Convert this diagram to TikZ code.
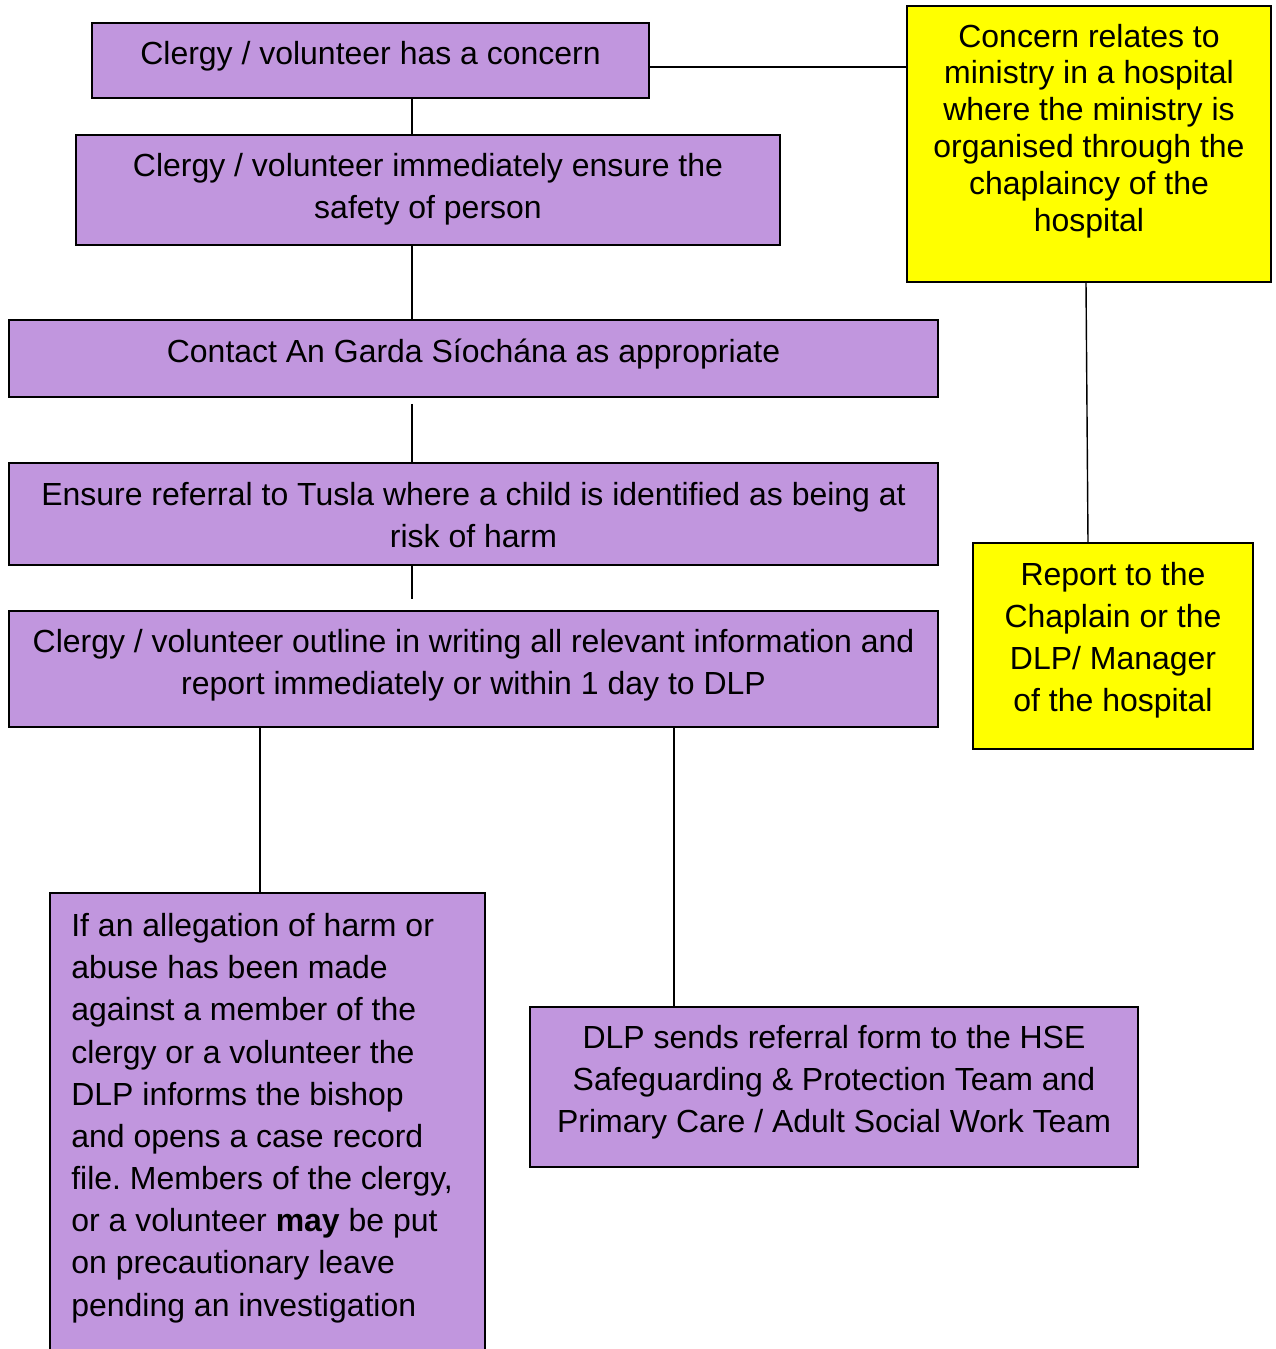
\documentclass[tikz,border=0pt]{standalone}
\usepackage{fontspec}
\setmainfont{Liberation Sans}
\usepackage{xcolor}
\usetikzlibrary{calc}
\definecolor{lilac}{RGB}{193,150,222}
\definecolor{brightyellow}{RGB}{255,255,0}
\frenchspacing
\tikzset{
  purplebox/.style={rectangle, draw=black, line width=1.1pt, fill=lilac, inner sep=0pt},
  yellowbox/.style={rectangle, draw=black, line width=1.1pt, fill=brightyellow, inner sep=0pt},
  boxtext/.style={align=center, inner sep=0pt, font=\fontsize{18.2}{24}\selectfont},
  connector/.style={line width=0.8pt, draw=black}
}

\begin{document}
\begin{tikzpicture}[x=0.02cm, y=-0.02cm]
\useasboundingbox (0,0) rectangle (1275,1349);
% Main column
\node[purplebox, minimum width=11.14cm, minimum height=1.5cm] (concern) at (370.5,60.5) {};
\node[boxtext] (concerntext) at ($(concern)+(0,-4)$) {Clergy / volunteer has a concern};
\node[purplebox, minimum width=14.08cm, minimum height=2.2cm] (safety) at (428,190) {};
\node[boxtext] (safetytext) at ($(safety)+(0,-1)$) {Clergy / volunteer immediately ensure the\\safety of person};
\node[purplebox, minimum width=18.58cm, minimum height=1.54cm] (garda) at (473.5,358.5) {};
\node[boxtext] (gardatext) at ($(garda)+(0,-4)$) {Contact An Garda Síochána as appropriate};
\node[purplebox, minimum width=18.58cm, minimum height=2.04cm] (tusla) at (473.5,514) {};
\node[boxtext] (tuslatext) at ($(tusla)+(0,1)$) {Ensure referral to Tusla where a child is identified as being at\\risk of harm};
\node[purplebox, minimum width=18.58cm, minimum height=2.32cm] (outline) at (473.5,669) {};
\node[boxtext] (outlinetext) at ($(outline)+(0,-4)$) {Clergy / volunteer outline in writing all relevant information and\\report immediately or within 1 day to DLP};

% Lower branches
\node[purplebox, minimum width=8.7cm, minimum height=9.54cm] (allegation) at (267.5,1131.5) {};
\node[boxtext, align=left, anchor=north west] (allegationtext) at (71,913) {If an allegation of harm or\\abuse has been made\\against a member of the\\clergy or a volunteer the\\DLP informs the bishop\\and opens a case record\\file. Members of the clergy,\\or a volunteer \textbf{may} be put\\on precautionary leave\\pending an investigation};
\node[purplebox, minimum width=12.16cm, minimum height=3.2cm] (hse) at (834,1087) {};
\node[boxtext] (hsetext) at ($(hse)+(0,-5)$) {DLP sends referral form to the HSE\\Safeguarding \& Protection Team and\\Primary Care / Adult Social Work Team};

% Hospital column
\node[yellowbox, minimum width=7.28cm, minimum height=5.52cm] (hospital) at (1089,144) {};
\node[boxtext, font=\fontsize{18.2}{21}\selectfont] (hospitaltext) at ($(hospital)+(0,-13)$) {Concern relates to\\ministry in a hospital\\where the ministry is\\organised through the\\chaplaincy of the\\hospital};
\node[yellowbox, minimum width=5.6cm, minimum height=4.12cm] (chaplain) at (1113,646) {};
\node[boxtext] (chaplaintext) at ($(chaplain)+(0,-6)$) {Report to the\\Chaplain or the\\DLP/ Manager\\of the hospital};

% Connectors
\coordinate (spine) at (412,0);
\coordinate (leftdrop) at (260,0);
\coordinate (rightdrop) at (674,0);
\coordinate (link) at (0,67);
\draw[connector] (concern.south -| spine) -- (safety.north -| spine);
\draw[connector] (safety.south -| spine) -- (garda.north -| spine);
\draw[connector] ($(garda.south -| spine)+(0,6)$) -- (tusla.north -| spine);
\draw[connector] (tusla.south -| spine) -- ($(outline.north -| spine)+(0,-11)$);
\draw[connector] (outline.south -| leftdrop) -- (allegation.north -| leftdrop);
\draw[connector] (outline.south -| rightdrop) -- (hse.north -| rightdrop);
\draw[connector] (concern.east |- link) -- (hospital.west |- link);
\draw[connector] ($(hospital.south)+(-3,0)$) -- ($(chaplain.north)+(-25,0)$);
\end{tikzpicture}
\end{document}
